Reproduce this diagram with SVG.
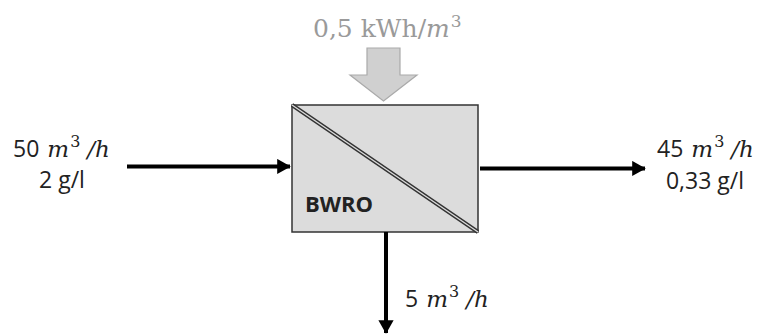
<svg xmlns="http://www.w3.org/2000/svg" width="759" height="335" viewBox="0 0 759 335">
<style>
.t{font-family:"Open Sans","Liberation Sans",sans-serif;font-size:23px;fill:#222}
.m{font-family:"DejaVu Serif","Liberation Serif",serif;font-style:italic;font-size:23px}
.s{font-family:"DejaVu Serif","Liberation Serif",serif;font-size:16px}
.g{font-family:"DejaVu Serif","Liberation Serif",serif;font-size:25px;fill:#9a9a9a}
.c{stroke:#000;stroke-width:4;fill:none}
</style>
<defs>
<marker id="ah" markerWidth="4" markerHeight="4" refX="3.2" refY="2" orient="auto" markerUnits="strokeWidth">
<path d="M0,0.1 L3.4,2 L0,3.9 Z" fill="#000"/>
</marker>
</defs>
<g id="energy">
<text class="g" x="313" y="37">0,5 kWh/<tspan font-style="italic">m</tspan><tspan font-size="17" dy="-10" dx="1">3</tspan></text>
<path d="M367,48 H400 V75 H417 L383.5,101 L350,75 H367 Z" fill="#d0d0d0" stroke="#aaa" stroke-width="1.2"/>
</g>
<g id="bwro">
<rect x="292" y="105" width="186" height="127" fill="#dcdcdc" stroke="#333" stroke-width="1.5"/>
<line x1="292" y1="105" x2="478" y2="232" stroke="#333" stroke-width="4"/>
<line x1="292" y1="105" x2="478" y2="232" stroke="#dcdcdc" stroke-width="1.3"/>
<text x="305" y="212" font-family="Open Sans,Liberation Sans,sans-serif" font-weight="bold" font-size="22" fill="#222">BWRO</text>
</g>
<g id="feed">
<text class="t" x="13" y="157">50<tspan class="m" dx="8">m</tspan><tspan class="s" dy="-10" dx="1">3</tspan><tspan class="m" dy="10" dx="7">/h</tspan></text>
<text class="t" x="62" y="188" text-anchor="middle">2 g/l</text>
</g>
<g id="product">
<text class="t" x="657" y="157">45<tspan class="m" dx="8">m</tspan><tspan class="s" dy="-10" dx="1">3</tspan><tspan class="m" dy="10" dx="7">/h</tspan></text>
<text class="t" x="705" y="189" text-anchor="middle">0,33 g/l</text>
</g>
<g id="brine">
<text class="t" x="405" y="307">5<tspan class="m" dx="8">m</tspan><tspan class="s" dy="-10" dx="1">3</tspan><tspan class="m" dy="10" dx="7">/h</tspan></text>
</g>
<g id="connectors">
<line class="c" x1="127" y1="166.5" x2="290" y2="166.5" marker-end="url(#ah)"/>
<line class="c" x1="480" y1="168.5" x2="645" y2="168.5" marker-end="url(#ah)"/>
<line class="c" x1="386" y1="232" x2="386" y2="333" marker-end="url(#ah)"/>
</g>
</svg>
